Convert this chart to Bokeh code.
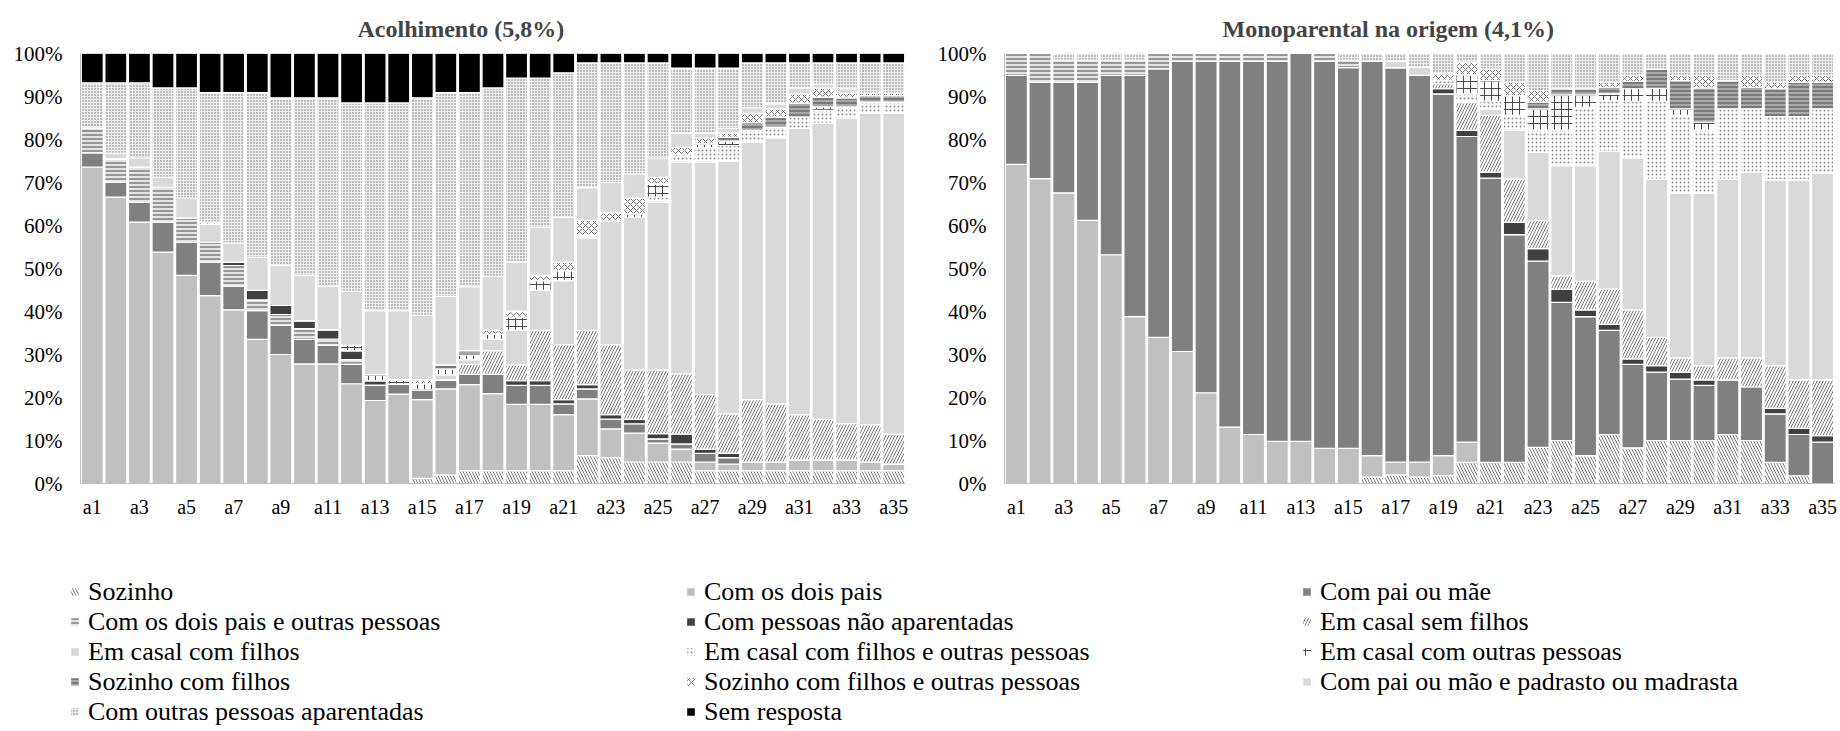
from bokeh.plotting import figure
from bokeh.models import (Range1d, FixedTicker, PrintfTickFormatter, Legend, LegendItem,
                          ColumnDataSource)
from bokeh.transform import stack
from bokeh.layouts import column, row
from bokeh.embed import file_html
from bokeh.resources import INLINE

x_labels = ["a1", "a2", "a3", "a4", "a5", "a6", "a7", "a8", "a9", "a10", "a11", "a12",
            "a13", "a14", "a15", "a16", "a17", "a18", "a19", "a20", "a21", "a22", "a23",
            "a24", "a25", "a26", "a27", "a28", "a29", "a30", "a31", "a32", "a33", "a34", "a35"]
y_ticks = [0, 10, 20, 30, 40, 50, 60, 70, 80, 90, 100]

categories = ["Sozinho", "Com os dois pais", "Com pai ou mãe",
              "Com os dois pais e outras pessoas", "Com pessoas não aparentadas",
              "Em casal sem filhos", "Em casal com filhos",
              "Em casal com filhos e outras pessoas", "Em casal com outras pessoas",
              "Sozinho com filhos", "Sozinho com filhos e outras pessoas",
              "Com pai ou mão e padrasto ou madrasta", "Com outras pessoas aparentadas",
              "Sem resposta"]

# ---------------- Acolhimento (5,8%) ----------------
ac_sozinho = [0, 0, 0, 0, 0, 0, 0, 0, 0, 0, 0, 0, 0, 0, 1.2, 2.0, 3.0, 3.0, 3.0, 3.0, 3.0, 6.5,
              6.0, 5.0, 5.0, 5.0, 3.0, 3.0, 3.0, 3.0, 3.0, 3.0, 3.0, 3.0, 3.0]
ac_dois_pais = [73.6, 66.6, 60.8, 53.8, 48.4, 43.7, 40.4, 33.5, 30.0, 27.8, 27.8, 23.2, 19.3,
                20.8, 18.3, 20.0, 20.0, 17.9, 15.4, 15.4, 13.0, 13.2, 6.7, 6.7, 4.4, 3.0, 2.0,
                1.5, 2.0, 2.0, 2.5, 2.5, 2.5, 2.0, 1.5]
ac_pai_mae = [3.3, 3.5, 4.6, 7.0, 7.7, 7.8, 5.5, 6.7, 6.8, 5.7, 4.4, 4.5, 3.6, 2.3, 2.3, 2.1,
              2.4, 4.5, 4.4, 4.4, 2.5, 2.3, 2.3, 2.2, 1.0, 1.2, 2.0, 1.5, 0, 0, 0, 0, 0, 0, 0]
ac_dois_pais_outras = [5.8, 5.4, 8.2, 8.1, 5.7, 4.6, 4.8, 2.5, 2.5, 2.5, 1.4, 1.1, 0, 0, 0, 0,
                       0, 0, 0, 0, 0, 0, 0, 0, 0, 0, 0, 0, 0, 0, 0, 0, 0, 0, 0]
ac_nao_aparentadas = [0, 0, 0, 0, 0, 0, 0.8, 2.2, 2.1, 1.9, 2.2, 2.1, 1.0, 0, 0, 0, 0, 0, 1.1,
                      1.1, 1.0, 1.0, 1.0, 1.0, 1.2, 2.3, 1.0, 1.0, 0, 0, 0, 0, 0, 0, 0]
ac_casal_sem_filhos = [0, 0, 0, 0, 0, 0, 0, 0, 0, 0, 0, 0, 0, 0, 0, 0, 2.3, 5.5, 3.7, 11.7,
                       12.8, 12.6, 16.3, 11.5, 14.8, 14.0, 12.7, 9.2, 14.5, 13.5, 10.5, 9.4,
                       8.4, 8.7, 7.0]
ac_casal_com_filhos = [0, 0, 0, 0, 0, 4.2, 0, 0, 0, 0, 0, 0, 0, 0, 0, 1.2, 1.1, 2.6, 8.0, 9.3,
                       14.9, 21.5, 28.7, 35.5, 39.0, 49.2, 54.0, 58.8, 59.9, 61.9, 66.6, 68.9,
                       71.1, 72.4, 74.6]
ac_casal_filhos_outras = [0, 0, 0, 0, 0, 0, 0, 0, 0, 0, 0, 0, 0, 0, 0, 0, 0, 0, 0, 0, 0, 0.6,
                          0, 0, 1.2, 1.3, 3.4, 3.6, 2.7, 2.5, 2.6, 3.0, 2.6, 2.6, 2.6]
ac_casal_outras = [0, 0, 0, 0, 0, 0.5, 0, 0, 0, 0, 0, 1.2, 1.4, 1.0, 1.4, 1.3, 1.0, 1.2, 3.1,
                   2.3, 2.3, 0, 0, 0.8, 3.1, 0.5, 0.9, 1.0, 0, 0, 0, 0.8, 0, 0, 0]
ac_sozinho_filhos = [0, 0, 0, 0, 0, 0, 0, 0, 0, 0, 0, 0, 0, 0, 0, 1.0, 1.1, 0, 0, 0, 0, 0, 0,
                     0, 0, 0, 0, 0.9, 1.8, 2.3, 3.2, 2.2, 2.1, 1.5, 1.5]
ac_sozinho_filhos_outras = [0, 0, 0, 0, 0, 0, 0, 0, 0, 0, 0, 0, 0, 0, 0.9, 0, 0, 0.9, 1.4, 1.2,
                            2.0, 3.5, 2.0, 3.7, 1.5, 1.7, 1.4, 1.0, 2.2, 1.9, 2.2, 2.2, 1.1,
                            0.6, 0.6]
ac_padrasto = [0, 1.3, 2.1, 2.3, 4.6, 0, 4.4, 7.7, 9.3, 10.5, 10.1, 12.6, 14.9, 16.1, 15.0,
               15.9, 14.9, 12.6, 11.4, 11.2, 10.4, 7.6, 7.0, 5.6, 4.5, 3.3, 1.1, 1.1, 1.3, 1.2,
               1.4, 0.9, 1.0, 0, 0]
ac_outras_aparentadas = [10.5, 16.4, 17.5, 20.8, 25.6, 30.1, 35.0, 38.3, 39.0, 41.3, 43.8,
                         43.8, 48.3, 48.3, 50.6, 47.4, 45.1, 43.8, 42.8, 34.7, 33.6, 29.0,
                         27.8, 25.8, 22.1, 15.1, 15.1, 14.0, 10.4, 9.5, 5.8, 4.9, 6.0, 7.0, 7.0]
ac_sem_resposta = [6.8, 6.8, 6.8, 8.0, 8.0, 9.1, 9.1, 9.1, 10.3, 10.3, 10.3, 11.5, 11.5, 11.5,
                   10.3, 9.1, 9.1, 8.0, 5.7, 5.7, 4.5, 2.2, 2.2, 2.2, 2.2, 3.4, 3.4, 3.4, 2.2,
                   2.2, 2.2, 2.2, 2.2, 2.2, 2.2]

# ---------------- Monoparental na origem (4,1%) ----------------
mo_sozinho = [0, 0, 0, 0, 0, 0, 0, 0, 0, 0, 0, 0, 0, 0, 0, 1.5, 2.0, 1.5, 1.8, 4.9, 4.9, 4.9,
              8.4, 10.0, 6.5, 11.4, 8.3, 10.0, 10.0, 10.0, 11.4, 10.0, 4.9, 1.8, 0]
mo_dois_pais = [74.2, 70.9, 67.6, 61.2, 53.2, 38.8, 34.0, 30.7, 21.1, 13.1, 11.4, 9.8, 9.8,
                8.2, 8.2, 5.0, 3.0, 3.5, 4.7, 4.7, 0, 0, 0, 0, 0, 0, 0, 0, 0, 0, 0, 0, 0, 0, 0]
mo_pai_mae = [20.7, 22.4, 25.7, 32.1, 41.7, 56.1, 62.4, 67.5, 77.1, 85.1, 86.8, 88.4, 90.2,
              90.0, 88.5, 91.7, 91.7, 89.9, 84.1, 71.1, 66.1, 53.0, 43.3, 32.1, 32.3, 24.2,
              19.4, 15.9, 14.3, 12.8, 12.7, 12.5, 11.3, 9.6, 9.6]
mo_dois_pais_outras = [5.1, 6.7, 5.1, 5.1, 3.5, 3.5, 3.6, 1.8, 1.8, 1.8, 1.8, 1.8, 0, 1.8, 1.7,
                       0, 0, 0, 0, 0, 0, 0, 0, 0, 0, 0, 0, 0, 0, 0, 0, 0, 0, 0, 0]
mo_nao_aparentadas = [0, 0, 0, 0, 0, 0, 0, 0, 0, 0, 0, 0, 0, 0, 0, 0, 0, 0, 1.2, 1.4, 1.4, 2.9,
                      2.9, 3.1, 1.6, 1.4, 1.3, 1.5, 1.6, 1.3, 0, 0, 1.3, 1.4, 1.5]
mo_casal_sem_filhos = [0, 0, 0, 0, 0, 0, 0, 0, 0, 0, 0, 0, 0, 0, 0, 0, 0, 0, 1.2, 6.6, 13.2,
                       10.0, 6.5, 3.1, 6.6, 8.2, 11.4, 6.6, 3.3, 3.3, 5.1, 6.7, 9.9, 11.3, 13.0]
mo_casal_com_filhos = [0, 0, 0, 0, 0, 0, 0, 0, 0, 0, 0, 0, 0, 0, 0, 0, 1.5, 1.9, 0, 0, 1.5,
                       11.3, 15.9, 25.6, 26.9, 32.1, 35.3, 36.8, 38.3, 40.1, 41.6, 43.2, 43.2,
                       46.5, 48.0]
mo_casal_filhos_outras = [0, 0, 0, 0, 0, 0, 0, 0, 0, 0, 0, 0, 0, 0, 0, 0, 0, 0, 0.8, 1.9, 1.8,
                          3.5, 5.2, 8.3, 13.6, 11.7, 13.2, 18.1, 18.1, 14.7, 16.3, 14.7, 14.7,
                          14.7, 15.0]
mo_casal_outras = [0, 0, 0, 0, 0, 0, 0, 0, 0, 0, 0, 0, 0, 0, 0, 0, 0, 0, 0, 4.5, 4.8, 4.6, 4.9,
                   8.2, 2.9, 1.6, 2.9, 3.0, 1.5, 1.8, 0, 0, 0, 0, 0]
mo_sozinho_filhos = [0, 0, 0, 0, 0, 0, 0, 0, 0, 0, 0, 0, 0, 0, 0, 0, 0, 0, 0, 0, 0, 0, 1.6,
                     1.4, 1.4, 1.5, 1.7, 4.5, 6.6, 8.0, 6.6, 5.0, 6.5, 8.0, 6.2]
mo_sozinho_filhos_outras = [0, 0, 0, 0, 0, 0, 0, 0, 0, 0, 0, 0, 0, 0, 0, 0, 0, 0, 1.5, 2.9,
                            2.7, 3.1, 2.7, 0, 0, 1.2, 1.4, 0, 1.2, 2.9, 0, 2.8, 1.5, 1.6, 1.6]
mo_padrasto = [0] * 35
mo_outras_aparentadas = [0, 0, 1.6, 1.6, 1.6, 1.6, 0, 0, 0, 0, 0, 0, 0, 0, 1.6, 1.8, 1.8, 3.2,
                         4.7, 2.0, 3.6, 6.7, 8.6, 8.2, 8.2, 6.7, 5.1, 3.6, 5.1, 5.1, 6.3, 5.1,
                         6.7, 5.1, 5.1]
mo_sem_resposta = [0] * 35

acol_series = [ac_sozinho, ac_dois_pais, ac_pai_mae, ac_dois_pais_outras, ac_nao_aparentadas,
               ac_casal_sem_filhos, ac_casal_com_filhos, ac_casal_filhos_outras,
               ac_casal_outras, ac_sozinho_filhos, ac_sozinho_filhos_outras, ac_padrasto,
               ac_outras_aparentadas, ac_sem_resposta]
mono_series = [mo_sozinho, mo_dois_pais, mo_pai_mae, mo_dois_pais_outras, mo_nao_aparentadas,
               mo_casal_sem_filhos, mo_casal_com_filhos, mo_casal_filhos_outras,
               mo_casal_outras, mo_sozinho_filhos, mo_sozinho_filhos_outras, mo_padrasto,
               mo_outras_aparentadas, mo_sem_resposta]

# styles: (fill, hatch pattern, hatch color, hatch scale, hatch weight)
styles = [
    ("white", "\\", "#7a7a7a", 6, 1.0),      # Sozinho
    ("#c0c0c0", None, None, 6, 1.0),         # Com os dois pais
    ("#808080", None, None, 6, 1.0),         # Com pai ou mãe
    ("#e4e4e4", "-", "#4a4a4a", 4, 1.0),     # Com os dois pais e outras pessoas
    ("#404040", None, None, 6, 1.0),         # Com pessoas não aparentadas
    ("white", "/", "#7a7a7a", 6, 1.0),       # Em casal sem filhos
    ("#d9d9d9", None, None, 6, 1.0),         # Em casal com filhos
    ("white", ".", "#8c8c8c", 4, 1.2),       # Em casal com filhos e outras pessoas
    ("white", "+", "#4a4a4a", 7, 1.0),       # Em casal com outras pessoas
    ("#a8a8a8", "-", "#6a6a6a", 4, 1.5),     # Sozinho com filhos
    ("white", "x", "#7a7a7a", 6, 1.0),       # Sozinho com filhos e outras pessoas
    ("#dadada", None, None, 6, 1.0),         # Com pai ou mão e padrasto ou madrasta
    ("#eeeeee", ".", "#6e6e6e", 3, 1.5),     # Com outras pessoas aparentadas
    ("black", None, None, 6, 1.0),           # Sem resposta
]

FONT = "Liberation Serif"
CHART_H = 523


def style_kwargs(i):
    fill, hp, hc, hs, hw = styles[i]
    kw = dict(fill_color=fill, line_color="white", line_width=1.2)
    if hp is not None:
        kw.update(hatch_pattern=hp, hatch_color=hc, hatch_scale=hs, hatch_weight=hw)
    return kw


def make_chart(title, series, width, mbl, mbr, title_offset):
    p = figure(width=width, height=CHART_H, x_range=Range1d(0.5, 35.5),
               y_range=Range1d(0, 100), toolbar_location=None, output_backend="svg",
               title=title, min_border_left=mbl, min_border_right=mbr, min_border_top=53,
               min_border_bottom=40)
    data = {"x": list(range(1, len(x_labels) + 1))}
    keys = []
    for i, s in enumerate(series):
        data["c%d" % i] = s
        keys.append("c%d" % i)
    src = ColumnDataSource(data)
    for i in range(len(keys)):
        p.vbar(x="x", width=0.93, bottom=stack(*keys[:i]), top=stack(*keys[:i + 1]),
               source=src, **style_kwargs(i))
    p.title.text_font = FONT
    p.title.text_font_size = "24px"
    p.title.text_font_style = "bold"
    p.title.align = "left"
    p.title.offset = title_offset
    p.title.standoff = 24
    p.xaxis.ticker = FixedTicker(ticks=list(range(1, len(x_labels) + 1, 2)))
    p.xaxis.major_label_overrides = {i + 1: lab for i, lab in enumerate(x_labels)}
    p.yaxis.ticker = FixedTicker(ticks=y_ticks)
    p.yaxis.formatter = PrintfTickFormatter(format="%d%%")
    for ax in (p.xaxis, p.yaxis):
        ax.major_label_text_font = FONT
        ax.major_label_text_color = "black"
        ax.major_tick_out = 0
        ax.major_tick_in = 0
        ax.minor_tick_out = 0
        ax.minor_tick_in = 0
        ax.axis_line_color = "#bfbfbf"
    p.xaxis.major_label_text_font_size = "20px"
    p.yaxis.major_label_text_font_size = "21px"
    p.xaxis.major_label_standoff = 12
    p.yaxis.major_label_standoff = 18
    p.grid.visible = False
    p.outline_line_color = None
    return p


p1 = make_chart("Acolhimento (5,8%)", acol_series, 934, 80, 29, 277)
p2 = make_chart("Monoparental na origem (4,1%)", mono_series, 906, 68, 6, 218)

# legend panel
LEG_H = 731 - CHART_H
p3 = figure(width=1840, height=LEG_H, x_range=Range1d(0, 1), y_range=Range1d(0, 1),
            toolbar_location=None, output_backend="svg", min_border=0)
p3.axis.visible = False
p3.grid.visible = False
p3.outline_line_color = None
items = []
for i, name in enumerate(categories):
    # zero-height proxy bar, only used to draw the legend swatch
    r = p3.vbar(x=[0], top=[0], width=0.001, **style_kwargs(i))
    items.append(LegendItem(label=name, renderers=[r]))
ROW_H = 29
FIRST_ROW_CENTER = 73
legend = Legend(items=items, orientation="horizontal", ncols=3,
                location=(69, LEG_H - (FIRST_ROW_CENTER + 4.5 * ROW_H)),
                margin=0, padding=0, spacing=0, label_width=597, glyph_width=11,
                glyph_height=11, label_height=ROW_H, label_standoff=8,
                label_text_font=FONT, label_text_font_size="26px",
                label_text_color="black", border_line_color=None,
                background_fill_alpha=0)
p3.add_layout(legend)

layout = column(row(p1, p2), p3)
open("out.html", "w").write(file_html(layout, INLINE))
